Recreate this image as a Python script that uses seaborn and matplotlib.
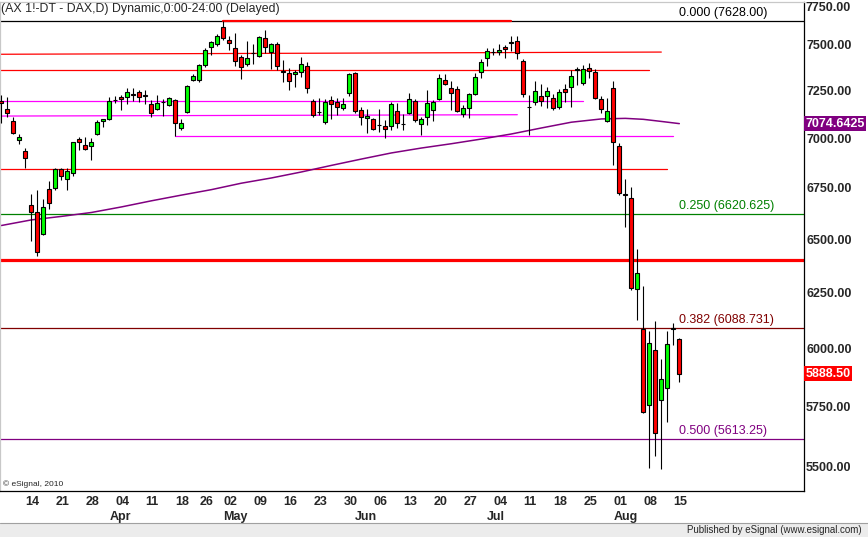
import numpy as np
import pandas as pd
import matplotlib
matplotlib.use("Agg")
import matplotlib.pyplot as plt
import matplotlib.transforms as mtransforms
from matplotlib.ticker import FixedLocator, NullLocator
from matplotlib.patches import Rectangle
from matplotlib.lines import Line2D
import seaborn as sns

# trading days (Eurex closed on Good Friday and Easter Monday)
dates = pd.bdate_range("2011-03-08", "2011-08-16", freq="C",
                       holidays=["2011-04-22", "2011-04-25"])

opens = [
    7193, 7151, 7089, 6992, 6935, 6664, 6630, 6524, 6743, 6748,
    6842, 6793, 6824, 6994, 6964, 6957, 7020, 7090, 7099, 7197,
    7213, 7216, 7228, 7240, 7224, 7175, 7151, 7190, 7172, 7197,
    7054, 7137, 7307, 7307, 7388, 7486, 7499, 7596, 7522, 7476,
    7428, 7389, 7452, 7436, 7532, 7458, 7500, 7352, 7340, 7336,
    7347, 7381, 7195, 7135, 7082, 7199, 7186, 7157, 7235, 7340,
    7146, 7102, 7097, 7070, 7063, 7063, 7142, 7075, 7131, 7193,
    7071, 7107, 7146, 7202, 7307, 7261, 7255, 7123, 7155, 7231,
    7347, 7422, 7456, 7456, 7486, 7508, 7518, 7409, 7164, 7186,
    7220, 7220, 7207, 7160, 7255, 7266, 7361, 7291, 7370, 7347,
    7202, 7090, 7260, 6960, 6717, 6697, 6265, 6085, 5755, 5992,
    5776, 5826, 6085, 6039]
highs = [
    7225, 7212, 7110, 7021, 6949, 6720, 6740, 6695, 6784, 6847,
    6847, 6847, 6982, 7007, 7004, 7002, 7092, 7099, 7216, 7220,
    7225, 7261, 7264, 7252, 7252, 7199, 7225, 7204, 7216, 7202,
    7097, 7279, 7336, 7390, 7476, 7517, 7556, 7628, 7544, 7560,
    7441, 7518, 7498, 7544, 7578, 7507, 7513, 7413, 7372, 7356,
    7428, 7403, 7204, 7207, 7204, 7220, 7207, 7207, 7340, 7347,
    7160, 7149, 7102, 7149, 7094, 7190, 7181, 7125, 7238, 7204,
    7110, 7252, 7199, 7336, 7336, 7300, 7274, 7172, 7235, 7340,
    7416, 7476, 7476, 7500, 7495, 7544, 7544, 7416, 7225, 7298,
    7285, 7269, 7231, 7257, 7285, 7359, 7375, 7385, 7394, 7364,
    7220, 7207, 7299, 6974, 6792, 6751, 6451, 6282, 6078, 6121,
    5951, 6074, 6112, 6045]
lows = [
    7077, 7110, 7019, 6972, 6850, 6489, 6418, 6518, 6647, 6736,
    6789, 6740, 6806, 6940, 6937, 6886, 7016, 7059, 7094, 7181,
    7146, 7177, 7193, 7190, 7175, 7110, 7146, 7114, 7167, 7013,
    7042, 7131, 7298, 7294, 7375, 7441, 7490, 7522, 7467, 7380,
    7309, 7381, 7390, 7428, 7452, 7364, 7359, 7294, 7252, 7269,
    7321, 7235, 7110, 7120, 7072, 7097, 7120, 7146, 7222, 7131,
    7068, 7025, 7042, 7033, 7000, 7042, 7051, 7042, 7125, 7085,
    7016, 7068, 7090, 7199, 7277, 7146, 7137, 7107, 7102, 7225,
    7315, 7381, 7441, 7441, 7422, 7463, 7416, 7212, 7016, 7172,
    7167, 7155, 7146, 7151, 7186, 7160, 7280, 7279, 7315, 7204,
    7128, 7082, 6863, 6714, 6560, 6262, 6125, 5722, 5494, 5543,
    5491, 5685, 6014, 5855]
closes = [
    7181, 7131, 7025, 7004, 6896, 6630, 6439, 6654, 6674, 6842,
    6810, 6834, 6979, 6982, 6944, 6979, 7082, 7097, 7193, 7199,
    7202, 7240, 7225, 7216, 7220, 7131, 7181, 7188, 7207, 7077,
    7077, 7274, 7325, 7385, 7467, 7510, 7547, 7532, 7504, 7409,
    7376, 7422, 7450, 7537, 7483, 7500, 7381, 7349, 7300, 7347,
    7389, 7261, 7120, 7137, 7186, 7175, 7162, 7177, 7336, 7142,
    7110, 7114, 7045, 7068, 7045, 7175, 7077, 7073, 7202, 7094,
    7097, 7181, 7190, 7318, 7286, 7235, 7141, 7155, 7230, 7321,
    7403, 7463, 7458, 7467, 7472, 7510, 7449, 7230, 7162, 7246,
    7195, 7246, 7155, 7243, 7243, 7325, 7363, 7364, 7353, 7207,
    7149, 7142, 6978, 6722, 6714, 6270, 6340, 5724, 6022, 5636,
    5865, 6017, 6088, 5888.5]

# moving average
ma_dates = ["2011-03-08", "2011-03-15", "2011-03-22", "2011-03-29", "2011-04-05",
            "2011-04-12", "2011-04-19", "2011-04-28", "2011-05-05", "2011-05-12",
            "2011-05-19", "2011-05-26", "2011-06-02", "2011-06-09", "2011-06-16",
            "2011-06-23", "2011-06-30", "2011-07-07", "2011-07-14", "2011-07-21",
            "2011-07-28", "2011-08-03", "2011-08-08", "2011-08-11", "2011-08-16"]
ma_values = [6565, 6592, 6609, 6628, 6655, 6685, 6713, 6740, 6772, 6798,
             6828, 6861, 6893, 6924, 6949, 6971, 6995, 7021, 7052, 7082,
             7099, 7102, 7097, 7086, 7074.6425]

# fibonacci retracement levels
fib_levels = [7628.00, 6620.625, 6088.731, 5613.25]
fib_labels = ["0.000 (7628.00)", "0.250 (6620.625)", "0.382 (6088.731)", "0.500 (5613.25)"]

# hand drawn support / resistance lines (None = from left edge)
seg_from = [None, None, None, None, "2011-04-18", None, "2011-05-02"]
seg_to = ["2011-08-11", "2011-08-09", "2011-07-25", "2011-07-08", "2011-08-15", "2011-08-12", "2011-07-07"]
seg_p0 = [7444, 7357, 7193, 7114, 7011, 6842, 7628]
seg_p1 = [7456, 7357, 7193, 7121, 7011, 6842, 7628]
support_level = 6400

price_ticks = [5500, 5750, 6000, 6250, 6500, 6750, 7000, 7250, 7500]
top_tick_label = "7750.00"
week_starts = ["2011-03-14", "2011-03-21", "2011-03-28", "2011-04-04", "2011-04-11",
               "2011-04-18", "2011-04-26", "2011-05-02", "2011-05-09", "2011-05-16",
               "2011-05-23", "2011-05-30", "2011-06-06", "2011-06-13", "2011-06-20",
               "2011-06-27", "2011-07-04", "2011-07-11", "2011-07-18", "2011-07-25",
               "2011-08-01", "2011-08-08", "2011-08-15"]
month_starts = ["2011-04-01", "2011-05-02", "2011-06-01", "2011-07-01", "2011-08-01"]
month_names = ["Apr", "May", "Jun", "Jul", "Aug"]

title = "(AX 1!-DT - DAX,D) Dynamic,0:00-24:00 (Delayed)"

sns.set_style("white")
plt.rcParams["font.family"] = ["Liberation Sans", "DejaVu Sans"]

W, H = 868, 537
fig = plt.figure(figsize=(W / 100, H / 100), dpi=100)
ax = fig.add_axes([0, 1 - 491 / H, 804 / W, 489 / H])


def idx(d):
    return dates.get_loc(pd.Timestamp(d))


x = np.arange(len(dates))
o = np.array(opens, dtype=float)
c = np.array(closes, dtype=float)
xmin, xmax = -0.22, 133.78

ax.set_yscale("log")
ax.set_ylim(5403, 7735)
ax.set_xlim(xmin, xmax)

# full width levels
fib_colors = ["black", "#008000", "#800000", "#800080"]
for lvl, lab, col in zip(fib_levels, fib_labels, fib_colors):
    ax.axhline(lvl, color=col, lw=0.9, zorder=1)
    ax.annotate(lab, xy=(679 / 804, lvl),
                xycoords=mtransforms.blended_transform_factory(ax.transAxes, ax.transData),
                xytext=(0, 5.6), textcoords="offset points",
                ha="left", va="center", fontsize=9, color=col)
ax.axhline(support_level, color="red", lw=2.3, zorder=1)

seg_colors = ["red", "red", "magenta", "magenta", "magenta", "red", "red"]
seg_widths = [0.9, 0.9, 0.9, 0.9, 0.9, 0.9, 1.6]
for f, t, p0, p1, col, lw in zip(seg_from, seg_to, seg_p0, seg_p1, seg_colors, seg_widths):
    x0 = xmin if f is None else idx(f)
    ax.plot([x0, idx(t)], [p0, p1], color=col, lw=lw, zorder=2)

# moving average
ma_x = [idx(d) for d in ma_dates]
sns.lineplot(x=ma_x, y=ma_values, ax=ax, color="#800080", lw=1.1, zorder=2)

# candles
ax.vlines(x, lows, highs, color="black", lw=0.8, zorder=3)
body_colors = np.where(c >= o, "#00FF00", "#FF0000")
ax.bar(x, np.abs(c - o), bottom=np.minimum(o, c), width=0.72,
       color=body_colors, edgecolor="black", linewidth=0.8, zorder=4)

# y axis on the right
ax.yaxis.tick_right()
ax.yaxis.set_major_locator(FixedLocator(price_ticks))
ax.yaxis.set_minor_locator(NullLocator())
ax.set_yticklabels([f"{p:.2f}" for p in price_ticks])
ax.tick_params(axis="y", length=0, pad=1.5, labelsize=9)
for lbl in ax.get_yticklabels():
    lbl.set_fontweight("bold")
ax.text(1.0015, (491 - 8) / 489, top_tick_label, transform=ax.transAxes,
        ha="left", va="center", fontsize=9, fontweight="bold")

# last value boxes
yblend = mtransforms.blended_transform_factory(ax.transAxes, ax.transData)
ax.text(1.0015, ma_values[-1], f"{ma_values[-1]:.4f}", transform=yblend, ha="left",
        va="center", fontsize=9, fontweight="bold", color="white",
        bbox=dict(boxstyle="square,pad=0.12", fc="#800080", ec="none"))
ax.text(1.0015, closes[-1], f"{closes[-1]:.2f}", transform=yblend, ha="left",
        va="center", fontsize=9, fontweight="bold", color="white",
        bbox=dict(boxstyle="square,pad=0.12", fc="#FF0000", ec="none"))

# x axis: weeks and months
week_x = [idx(d) for d in week_starts]
ax.set_xticks(week_x)
ax.set_xticklabels([pd.Timestamp(d).strftime("%d") for d in week_starts])
ax.set_xticks([idx(d) for d in month_starts], minor=True)
ax.tick_params(axis="x", which="major", length=2.5, width=0.8, pad=1, labelsize=9, direction="out")
ax.tick_params(axis="x", which="minor", length=4, width=0.8, direction="out")
for lbl in ax.get_xticklabels():
    lbl.set_ha("left")
    lbl.set_fontweight("bold")
xblend = mtransforms.blended_transform_factory(ax.transData, ax.transAxes)
for d, name in zip(month_starts, month_names):
    ax.text(idx(d), (491 - 517) / 489, name, transform=xblend, ha="left", va="center",
            fontsize=9, fontweight="bold")

for side in ["right", "bottom"]:
    ax.spines[side].set_color("black")
    ax.spines[side].set_linewidth(0.9)
for side in ["left", "top"]:
    ax.spines[side].set_color("#C8C8C8")
    ax.spines[side].set_linewidth(0.9)

# title and credits
fig.text(1 / W, 1 - 9 / H, title, ha="left", va="center", fontsize=8.9)
fig.text(3 / W, 1 - 484 / H, "\u00a9 eSignal, 2010", ha="left", va="center", fontsize=6)

fig.patches.append(Rectangle((0, 0), 1, 14 / H, transform=fig.transFigure,
                             fc="#ECECEC", ec="none", zorder=0))
fig.lines.append(Line2D([0, 1], [14 / H, 14 / H], transform=fig.transFigure,
                        color="#A0A0A0", lw=0.8))
fig.text(862 / W, 7 / H, "Published by eSignal (www.esignal.com)", ha="right",
         va="center", fontsize=7)

fig.savefig("out.png", dpi=100)
